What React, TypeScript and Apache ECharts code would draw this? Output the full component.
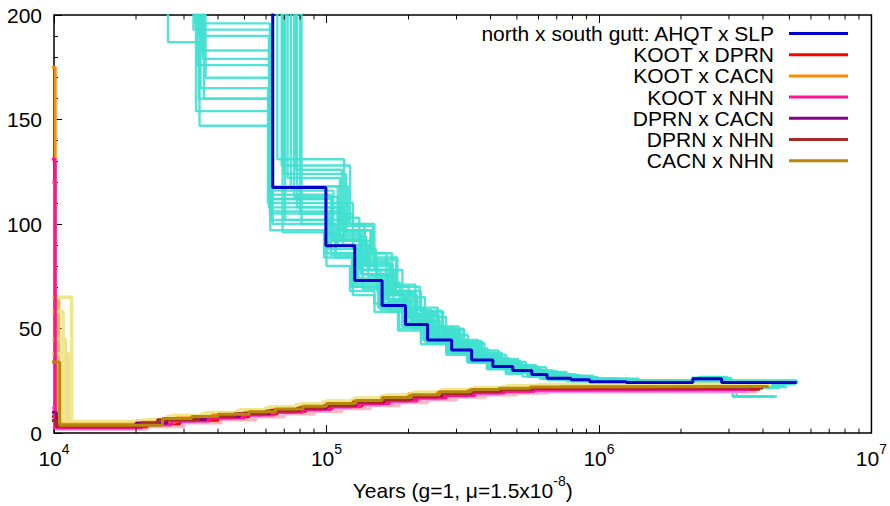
import React, { useEffect, useRef } from 'react';
import * as echarts from 'echarts';

const FONT = '"Liberation Sans", Arial, Helvetica, sans-serif';

// x values in thousands of years, y = effective population size (x10^4)
const AHQT_SLP = [[10,400],[63.5,117.5],[99.5,89.6],[127,73],[160,61],[195,52],[235,44.5],[288,39.8],[341,35],[408,31.8],[483,29.9],[567,28],[645,26.2],[790,25.5],[925,24.6],[1260,24.2],[2210,26],[2820,24.2],[5320,24.2]];
const KOOT_DPRN = [[8,8],[10.2,3],[22,4.5],[29,6.2],[40,7.8],[52,9.2],[66,10.5],[84,11.8],[105,13],[135,14.5],[170,15.8],[215,17.2],[275,18.5],[350,19.5],[450,20.3],[580,20.8],[750,21],[3900,21]];
const KOOT_CACN = [[8,175],[10.1,4.2],[21,5.2],[28,7.2],[38,8.6],[50,10],[63,11.2],[80,12.5],[100,13.8],[125,15.2],[160,16.6],[200,18],[255,19.4],[330,20.5],[430,21.2],[560,21.8],[720,22.2],[4100,22.2]];
const KOOT_NHN = [[8,131],[10.1,2.5],[21,4],[27,5.8],[37,7.2],[50,8.6],[64,10],[82,11.3],[104,12.6],[133,14],[170,15.4],[215,16.8],[275,18],[350,19.2],[450,20],[580,20.6],[750,20.8],[3600,20.8]];
const DPRN_CACN = [[8,10],[10.2,3.5],[20,4.8],[26,6.5],[36,8],[48,9.4],[62,10.8],[80,12],[100,13.4],[128,14.8],[162,16.2],[205,17.6],[265,19],[340,20.2],[440,21],[570,21.5],[730,21.7],[3800,21.7]];
const DPRN_NHN = [[8,6],[10.2,3.2],[21,4.6],[24,6.4],[34,7.8],[46,9.2],[60,10.6],[78,11.9],[98,13.2],[125,14.6],[160,16],[202,17.4],[260,18.8],[335,20],[435,20.8],[565,21.3],[725,21.6],[4000,21.6]];
const CACN_NHN = [[8,34],[10.5,3.8],[25,7],[32,8],[40,9],[52,10.2],[65,11.5],[82,12.8],[100,14.2],[128,15.6],[160,17],[205,18.4],[260,19.8],[340,20.8],[430,21.5],[560,22],[700,22.3],[4200,22.3]];

// bootstrap replicates, north x south gutt
const BS_NS_01 = [[10,400],[26.2,187],[34,160],[62,112],[105,92],[135,76],[168,63],[205,54],[250,46],[300,41],[360,36],[430,32.5],[510,30],[600,28],[720,26.5],[900,25.2],[1300,24.5],[2300,25],[3000,24],[5000,24]];
const BS_NS_02 = [[10,400],[33,196],[62,114],[104,95],[133,78],[165,64],[200,55],[243,47],[298,41.5],[352,36.5],[420,33],[495,30.8],[580,28.8],[680,27],[850,25.8],[1150,24.8],[2300,25.5],[3100,23.5],[5100,23.5]];
const BS_NS_03 = [[10,400],[34,190],[61.5,108],[112,92],[140,80],[172,66],[210,56],[255,48],[305,42],[365,37],[440,33.5],[520,31],[610,29],[720,27.2],[900,26],[1300,25],[2500,26.5],[2900,25],[5200,25]];
const BS_NS_04 = [[10,400],[35,183],[63,112],[100,86],[128,71],[158,59],[192,51],[232,43],[285,38.5],[335,34],[400,31],[475,29],[560,27.2],[650,25.5],[800,24.8],[1000,24],[2000,23],[3000,22.5],[4800,22.5]];
const BS_NS_05 = [[10,400],[33.5,176],[62.5,102],[118,97],[145,83],[180,68],[222,58],[268,49.5],[320,43],[380,37.5],[455,34],[540,31.5],[640,29.2],[760,27.5],[950,26],[1400,25.2],[2600,24.5],[3300,23.5],[5300,23.5]];
const BS_NS_06 = [[10,400],[36,170],[63.5,100],[108,84],[136,69],[170,58],[208,50],[250,43],[300,38],[355,33.8],[425,31],[500,29],[590,27.4],[700,26],[880,25],[1200,24.2],[2100,24.8],[2700,23.5],[5000,23.5]];
const BS_NS_07 = [[10,400],[34.5,165],[61,110],[125,100],[150,78],[190,65],[230,55.5],[275,47],[330,40.5],[390,36],[465,32.5],[545,30.2],[630,28.5],[750,27],[920,25.8],[1350,24.8],[2400,25.5],[3000,24],[5300,24]];
const BS_NS_08 = [[10,400],[35.5,160],[62,105],[102,88],[131,74],[163,62],[198,53],[238,45.5],[292,40.5],[345,35.5],[412,32.3],[488,30.3],[572,28.4],[660,26.6],[810,25.6],[960,24.8],[2000,24],[3100,17.5],[4400,17.5]];
const BS_NS_09 = [[10,400],[33.2,154],[62.8,106],[115,90],[142,75],[176,63.5],[215,54],[260,46],[312,40.5],[370,35.8],[448,32.3],[525,30],[620,28.2],[730,26.5],[880,25.3],[1250,24.5],[2250,25.8],[2850,24],[4300,24]];
const BS_NS_10 = [[10,400],[34.2,147],[61.8,116],[106,93],[134,76],[168,63],[204,53.5],[245,46],[296,40.8],[350,36],[418,32.7],[492,30.5],[575,28.5],[668,26.8],[820,25.6],[980,24.8],[2100,23.5],[3200,17.5],[4200,17.5]];
const BS_NS_11 = [[10,400],[68.5,128],[122,100],[138,80],[154,67],[191,57],[233,47.4],[279,40],[330,35],[388,30.8],[455,28.4],[525,27],[607,26],[760,25.5],[950,24.8],[1300,24.5],[2200,26.5],[2800,24.5],[5400,24.5]];
const BS_NS_12 = [[10,400],[70,124],[118,96],[135,78],[158,66],[196,56],[238,48],[286,42],[338,37],[400,33],[470,30.5],[550,28.6],[640,27],[770,25.8],[940,25],[1280,24.4],[2250,25.8],[2850,24.2],[5350,24.2]];
const BS_NS_13 = [[10,400],[72,122],[112,94],[140,82],[170,68],[205,57],[248,49],[300,43],[355,38],[420,34],[495,31.2],[580,29],[670,27.5],[800,26.2],[970,25.4],[1320,24.8],[2300,26.2],[2950,24.5],[5300,24.5]];
const BS_NS_14 = [[10,400],[74,118],[120,99],[148,84],[182,70],[220,58.5],[265,50],[318,44],[372,38.5],[440,34.5],[515,31.8],[600,29.5],[700,27.8],[840,26.4],[1000,25.4],[1400,24.8],[2400,26],[3000,24.2],[5200,24.2]];
const BS_NS_15 = [[10,400],[76,113],[110,90],[130,72],[162,62],[198,53],[240,46],[290,41],[343,36.5],[410,33],[482,30.8],[565,28.8],[655,27.2],[790,26],[930,25.2],[1270,24.6],[2200,26],[2800,24.4],[5250,24.4]];
const BS_NS_16 = [[10,400],[78,108],[116,92],[144,78],[178,66],[215,56],[258,48],[310,42.5],[362,37.2],[432,33.4],[505,31],[590,29],[690,27.4],[830,26],[990,25.2],[1350,24.6],[2350,25.5],[2900,24],[5000,24]];
const BS_NS_17 = [[10,400],[80,105],[125,88],[152,72],[186,60],[225,51],[270,44],[325,39],[380,34.5],[450,31.5],[530,29.5],[615,27.8],[710,26.4],[860,25.3],[1100,24.5],[1500,24],[2500,23.5],[3100,17.5],[4500,17.5]];
const BS_NS_18 = [[10,400],[81,100],[108,86],[126,70],[156,60],[190,51],[228,44],[282,39],[335,34.5],[402,31.4],[478,29.6],[560,27.8],[640,26.2],[780,25.4],[920,24.6],[1250,24.2],[2200,25.8],[2800,24],[5100,24]];
const BS_NS_19 = [[10,400],[69,96],[104,85],[125,66],[150,58],[185,50],[222,42.5],[278,38],[330,33.8],[395,30.8],[470,29],[550,27.5],[630,26],[770,25],[910,24.4],[1240,23.8],[2000,22],[2600,21.5],[4600,21.5]];
const BS_NS_20 = [[10,400],[70.5,102],[100,80],[122,68],[150,62],[183,49],[225,45],[275,37.5],[328,34],[390,30.5],[460,28.8],[545,27],[625,25.8],[760,24.8],[900,24.2],[1220,23.8],[2100,22.5],[2700,22],[4900,22]];
const BS_NS_21 = [[10,400],[32.5,193],[63,118],[110,97],[138,81],[175,67],[212,57],[258,49],[310,43],[368,37.8],[436,34],[512,31.4],[600,29.2],[705,27.4],[860,26.2],[1180,25.2],[2350,26.8],[2950,25.2],[5350,25.2]];
const BS_NS_22 = [[10,400],[35.2,179],[62.2,97],[98,84],[124,70],[155,60],[190,51],[229,44],[282,39.2],[338,34.6],[405,31.6],[480,29.4],[563,27.6],[652,26],[795,25.2],[940,24.4],[1900,23.8],[2700,23],[4700,23]];
const BS_NS_23 = [[10,400],[66,131],[116,103],[132,86],[166,70],[200,59],[242,50.5],[294,43.5],[348,38],[415,34.2],[490,31.4],[570,29.4],[660,27.6],[780,26.4],[960,25.4],[1330,24.9],[2300,26.6],[2900,24.8],[5300,24.8]];
const BS_NS_24 = [[10,400],[77,126],[114,97],[146,86],[174,71],[212,60],[256,51],[306,44.5],[360,39.5],[428,35.5],[505,32.5],[588,30],[680,28.2],[815,26.8],[985,25.8],[1380,25],[2450,26.4],[3050,24.6],[5250,24.6]];

// bootstrap replicates for the within-north pairs
const BS_CACN_NHN_A = [[8,65],[11.6,5.6],[22,6.5],[27,8.4],[36,9.8],[48,11.2],[62,12.6],[80,14],[100,15.4],[128,16.8],[165,18.2],[210,19.6],[270,20.8],[350,21.8],[460,22.6],[600,23.2],[780,23.5],[4300,23.5]];
const BS_CACN_NHN_B = [[8,45],[11,4.8],[23,6],[29,7.6],[39,9],[52,10.6],[68,12],[88,13.4],[110,14.8],[140,16.2],[178,17.6],[225,19],[290,20.3],[375,21.3],[490,22],[640,22.6],[4000,22.6]];
const BS_CACN_NHN_C = [[8,58],[10.8,5.2],[21,6.2],[26,8],[35,9.4],[47,10.8],[60,12.2],[78,13.6],[98,15],[125,16.4],[160,17.8],[205,19.2],[262,20.5],[345,21.5],[450,22.3],[590,22.9],[4100,22.9]];
const BS_CACN_NHN_D = [[8,38],[11.3,5],[22,6.3],[28,8.2],[37,9.6],[50,11],[64,12.4],[83,13.8],[104,15.2],[133,16.6],[170,18],[216,19.4],[278,20.6],[360,21.6],[470,22.4],[615,23],[4250,23]];
const BS_KOOT_CACN = [[8,65],[10.4,4.5],[20,5.8],[26,7.8],[35,9.2],[47,10.6],[60,12],[77,13.3],[97,14.6],[124,16],[158,17.4],[200,18.8],[258,20],[335,21],[440,21.8],[580,22.4],[4200,22.4]];
const BS_KOOT_NHN = [[8,120],[10.1,2.2],[19,3.6],[24,5.5],[33,7],[45,8.4],[58,9.8],[75,11.1],[96,12.3],[123,13.6],[157,15],[200,16.4],[258,17.7],[330,18.8],[430,19.6],[560,20.1],[3500,20.1]];
const BS_KOOT_DPRN_A = [[8,10],[10.2,2],[22,3.2],[30,5],[41,6.4],[55,7.8],[70,9.2],[90,10.5],[114,11.8],[145,13.2],[185,14.6],[235,16],[300,17.3],[385,18.4],[500,19.2],[650,19.8],[3800,19.8]];
const BS_KOOT_DPRN_B = [[8,8],[10.3,2.8],[21,4.2],[28,6],[38,7.4],[51,8.8],[66,10.2],[85,11.5],[108,12.8],[138,14.2],[176,15.6],[222,17],[285,18.2],[365,19.3],[470,20],[610,20.5],[3300,20.5]];
const BS_DPRN_CACN = [[8,12],[10.2,3],[20,4.4],[25,6.2],[35,7.6],[47,9],[61,10.4],[79,11.7],[100,13],[127,14.4],[162,15.8],[206,17.2],[265,18.5],[340,19.6],[440,20.4],[570,21],[3700,21]];

const X_DECADES = [10000, 100000, 1000000];
const X_MINOR_MULTS = [2, 3, 4, 5, 6, 7, 8, 9];

const MAIN_SERIES: [string, number[][], string][] = [
  ['north x south gutt: AHQT x SLP', AHQT_SLP, '#0000cc'],
  ['KOOT x DPRN', KOOT_DPRN, '#ff0000'],
  ['KOOT x CACN', KOOT_CACN, '#ff8c00'],
  ['KOOT x NHN', KOOT_NHN, '#ff1493'],
  ['DPRN x CACN', DPRN_CACN, '#8b008b'],
  ['DPRN x NHN', DPRN_NHN, '#a52a2a'],
  ['CACN x NHN', CACN_NHN, '#b8860b'],
];

const TURQ_BOOTSTRAPS = [BS_NS_01, BS_NS_02, BS_NS_03, BS_NS_04, BS_NS_05, BS_NS_06, BS_NS_07, BS_NS_08, BS_NS_09, BS_NS_10,
  BS_NS_11, BS_NS_12, BS_NS_13, BS_NS_14, BS_NS_15, BS_NS_16, BS_NS_17, BS_NS_18, BS_NS_19, BS_NS_20,
  BS_NS_21, BS_NS_22, BS_NS_23, BS_NS_24];

const LOW_BOOTSTRAPS: [number[][], string][] = [
  [BS_KOOT_DPRN_A, '#ffb6c1'],
  [BS_KOOT_DPRN_B, '#ffb6c1'],
  [BS_KOOT_NHN, '#ee82ee'],
  [BS_DPRN_CACN, '#ff66ff'],
  [BS_KOOT_CACN, '#ffb347'],
  [BS_CACN_NHN_D, '#eee08a'],
  [BS_CACN_NHN_B, '#eee08a'],
  [BS_CACN_NHN_C, '#f0e68c'],
  [BS_CACN_NHN_A, '#f0e68c'],
];

const toYears = (arr: number[][]) => arr.map(([x, v]) => [x * 1000, v]);

export default function App() {
  const ref = useRef<HTMLDivElement>(null);
  useEffect(() => {
    if (!ref.current) return;
    const chart = echarts.init(ref.current, undefined, { renderer: 'svg' });
    const rich = {
      b: { fontSize: 21, fontFamily: FONT, color: '#000', padding: [6, 0, 0, 0], verticalAlign: 'bottom' },
      s: { fontSize: 14, fontFamily: FONT, color: '#000', verticalAlign: 'top' },
    };
    const series: any[] = [];
    TURQ_BOOTSTRAPS.forEach((d, i) => {
      series.push({
        name: 'bs-ns-' + i, type: 'line', step: 'end', symbol: 'none', silent: true,
        data: toYears(d), lineStyle: { color: '#40e0d0', width: 2.4, opacity: 0.9 }, z: 2,
      });
    });
    LOW_BOOTSTRAPS.forEach(([d, c], i) => {
      series.push({
        name: 'bs-low-' + i, type: 'line', step: 'end', symbol: 'none', silent: true,
        data: toYears(d), lineStyle: { color: c, width: 3.5 }, z: 2,
      });
    });
    MAIN_SERIES.forEach(([name, d, c]) => {
      series.push({
        name, type: 'line', step: 'end', symbol: 'none', silent: true,
        data: toYears(d), color: c, lineStyle: { color: c, width: 3 }, z: 3,
      });
    });
    const minor: number[][] = [];
    X_DECADES.forEach((dec) => X_MINOR_MULTS.forEach((m) => minor.push([dec * m, 0])));
    series.push({
      name: 'minor-ticks', type: 'custom', silent: true, z: 5,
      data: minor,
      encode: { x: 0, y: 1 },
      renderItem: (_p: any, api: any) => {
        const v = api.value(0);
        const b = api.coord([v, 0]);
        const t = api.coord([v, 200]);
        return {
          type: 'group',
          children: [
            { type: 'line', shape: { x1: b[0], y1: b[1], x2: b[0], y2: b[1] - 4.5 }, style: { stroke: '#000', lineWidth: 1 } },
            { type: 'line', shape: { x1: t[0], y1: t[1], x2: t[0], y2: t[1] + 4.5 }, style: { stroke: '#000', lineWidth: 1 } },
          ],
        };
      },
    });

    chart.setOption({
      animation: false,
      textStyle: { fontFamily: FONT },
      grid: { left: 54, right: 18, top: 15, bottom: 69, show: true, borderColor: '#000', borderWidth: 1.5, backgroundColor: 'transparent' },
      legend: {
        data: MAIN_SERIES.map((s) => ({ name: s[0], icon: 'rect' })),
        orient: 'vertical', align: 'right', right: 37, top: 18,
        itemWidth: 59, itemHeight: 3, itemGap: 0.2,
        textStyle: { fontSize: 21, color: '#000', fontFamily: FONT, padding: [0, 10, 0, 0] },
        selectedMode: false,
      },
      xAxis: [
        {
          type: 'log', logBase: 10, min: 10000, max: 10000000,
          name: '{b|Years (g=1, μ=1.5x10}{s|-8}{b|)}', nameLocation: 'middle', nameGap: 37,
          nameTextStyle: { rich },
          axisLine: { show: false },
          axisTick: { show: true, inside: true, length: 8, lineStyle: { color: '#000', width: 1 } },
          axisLabel: { margin: 9, formatter: (v: number) => '{b|10}{s|' + Math.round(Math.log10(v)) + '}', rich },
          splitLine: { show: false },
        },
        {
          type: 'log', logBase: 10, min: 10000, max: 10000000, position: 'top',
          axisLine: { show: false },
          axisTick: { show: true, inside: true, length: 8, lineStyle: { color: '#000', width: 1 } },
          axisLabel: { show: false },
          splitLine: { show: false },
        },
      ],
      yAxis: {
        type: 'value', min: 0, max: 200, interval: 50,
        axisLine: { show: false },
        axisTick: { show: true, inside: true, length: 8, lineStyle: { color: '#000', width: 1 } },
        minorTick: { show: true, splitNumber: 5, length: 4, lineStyle: { color: '#000', width: 1 } },
        axisLabel: { fontSize: 21, color: '#000', margin: 12, fontFamily: FONT },
        splitLine: { show: false },
      },
      series,
    });
    return () => chart.dispose();
  }, []);
  return <div ref={ref} style={{ position: 'absolute', left: 0, top: 0, width: 890, height: 506 }} />;
}
